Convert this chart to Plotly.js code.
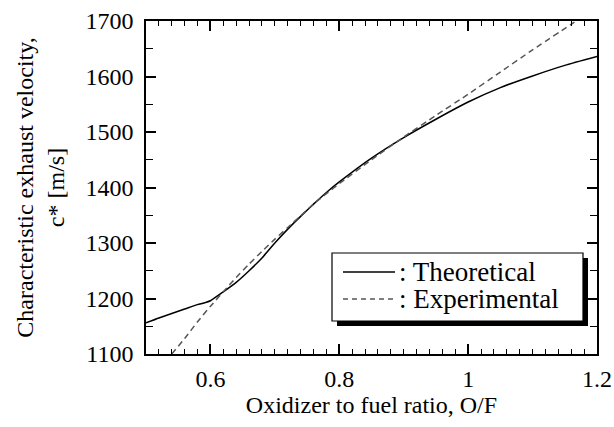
<!DOCTYPE html>
<html>
<head>
<meta charset="utf-8">
<script src="https://cdn.plot.ly/plotly-3.0.1.min.js"></script>
<style>html,body{margin:0;padding:0;background:#fff;}#chart{width:614px;height:427px;}.modebar,.modebar-container{display:none !important;}</style>
</head>
<body>
<div id="chart"></div>
<script>
// Theoretical c* vs O/F
const theoX = [0.50,0.52,0.54,0.56,0.58,0.59,0.60,0.62,0.64,0.66,0.68,0.70,0.72,0.74,0.76,0.78,0.80,0.85,0.90,0.95,1.00,1.05,1.10,1.15,1.20];
const theoY = [1156,1165,1173,1181,1189,1192,1196,1212,1229,1250,1273,1300,1325,1348,1370,1391,1410,1453,1490,1523,1554,1580,1601,1620,1636];
// Experimental c* vs O/F
const expX = [0.54,0.56,0.58,0.60,0.62,0.64,0.66,0.68,0.70,0.72,0.74,0.76,0.78,0.80,0.85,0.90,0.95,1.00,1.05,1.10,1.165];
const expY = [1100,1128,1158,1186,1212,1238,1262,1285,1307,1328,1349,1370,1389,1407,1450,1491,1530,1568,1608,1648,1698];
// Axis ticks
const xTickVals = [0.6,0.8,1,1.2];
const xTickText = ['0.6','0.8','1','1.2'];
const yTickVals = [1100,1200,1300,1400,1500,1600,1700];
const yTickText = ['1100','1200','1300','1400','1500','1600','1700'];
const legendNames = [': Theoretical', ': Experimental'];

const FONT = 'Liberation Serif';

const traces = [
  {x: theoX, y: theoY, type: 'scatter', mode: 'lines', name: legendNames[0], showlegend: false,
   line: {color: '#000', width: 1.5, shape: 'spline', smoothing: 0.5}},
  {x: expX, y: expY, type: 'scatter', mode: 'lines', name: legendNames[1], showlegend: false,
   line: {color: '#555', width: 1.5, dash: '6px,4px', shape: 'spline', smoothing: 0.5}}
];

function px(p){ return (p-146)/451; }
function py(p){ return (354-p)/333; }

const layout = {
  width: 614, height: 427,
  margin: {l: 146, r: 17, t: 21, b: 73},
  paper_bgcolor: '#fff', plot_bgcolor: '#fff',
  font: {family: FONT, color: '#000', size: 24},
  showlegend: false,
  xaxis: {
    range: [0.5, 1.2], tickmode: 'array', tickvals: xTickVals, ticktext: xTickText,
    ticks: 'inside', ticklen: 10, tickwidth: 1.5, tickcolor: '#000',
    showline: true, linewidth: 1.5, linecolor: '#000', mirror: 'ticks',
    showgrid: false, zeroline: false, ticklabelstandoff: 2,
    tickfont: {family: FONT, size: 24, color: '#000'},
    minor: {tickmode: 'linear', tick0: 0.5, dtick: 0.02, ticks: 'inside', ticklen: 5, tickwidth: 1.2, tickcolor: '#000', showgrid: false},
    title: {text: 'Oxidizer to fuel ratio, O/F', font: {family: FONT, size: 24, color: '#000'}, standoff: 6}
  },
  yaxis: {
    range: [1100, 1700], tickmode: 'array', tickvals: yTickVals, ticktext: yTickText,
    ticks: 'inside', ticklen: 10, tickwidth: 1.5, tickcolor: '#000',
    showline: true, linewidth: 1.5, linecolor: '#000', mirror: 'ticks',
    showgrid: false, zeroline: false, ticklabelstandoff: 6,
    tickfont: {family: FONT, size: 24, color: '#000'},
    minor: {tickmode: 'linear', tick0: 1100, dtick: 50, ticks: 'inside', ticklen: 7, tickwidth: 1.2, tickcolor: '#000', showgrid: false},
    title: {text: 'Characteristic exhaust velocity,<br>c* [m/s]', font: {family: FONT, size: 24, color: '#000'}, standoff: 14}
  },
  shapes: [
    {type: 'rect', xref: 'paper', yref: 'paper', x0: px(337), x1: px(588), y0: py(326), y1: py(258),
     fillcolor: '#000', line: {width: 0}},
    {type: 'rect', xref: 'paper', yref: 'paper', x0: px(332), x1: px(583), y0: py(321), y1: py(253),
     fillcolor: '#fff', line: {color: '#000', width: 1.2}},
    {type: 'line', xref: 'paper', yref: 'paper', x0: px(343), x1: px(395), y0: py(272), y1: py(272),
     line: {color: '#000', width: 1.5}},
    {type: 'line', xref: 'paper', yref: 'paper', x0: px(343), x1: px(395), y0: py(299), y1: py(299),
     line: {color: '#000', width: 1.2, dash: '5px,4px'}}
  ],
  annotations: [
    {xref: 'paper', yref: 'paper', x: px(397), y: py(272), xanchor: 'left', yanchor: 'middle',
     text: legendNames[0], showarrow: false, font: {family: FONT, size: 27, color: '#000'}},
    {xref: 'paper', yref: 'paper', x: px(397), y: py(299), xanchor: 'left', yanchor: 'middle',
     text: legendNames[1], showarrow: false, font: {family: FONT, size: 27, color: '#000'}}
  ]
};

Plotly.newPlot('chart', traces, layout);
</script>
</body>
</html>
